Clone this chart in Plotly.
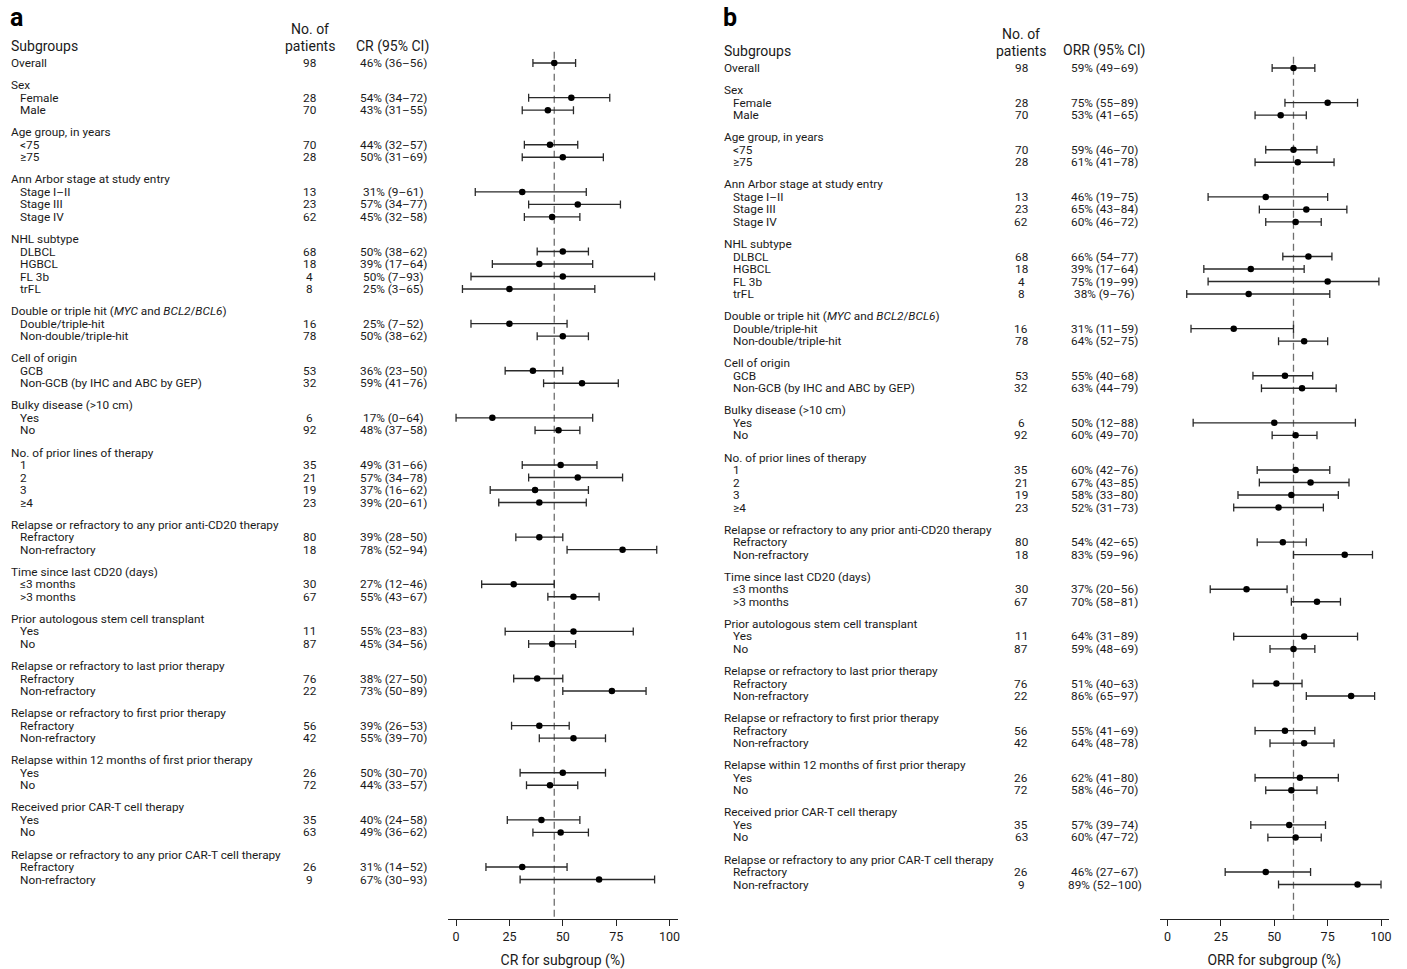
import plotly.graph_objects as go

# ---- subgroup structure -------------------------------------------------
overall_label = "Overall"
group_headers = [
    "Sex",
    "Age group, in years",
    "Ann Arbor stage at study entry",
    "NHL subtype",
    "Double or triple hit (<i>MYC</i> and <i>BCL2</i>/<i>BCL6</i>)",
    "Cell of origin",
    "Bulky disease (>10 cm)",
    "No. of prior lines of therapy",
    "Relapse or refractory to any prior anti-CD20 therapy",
    "Time since last CD20 (days)",
    "Prior autologous stem cell transplant",
    "Relapse or refractory to last prior therapy",
    "Relapse or refractory to first prior therapy",
    "Relapse within 12 months of first prior therapy",
    "Received prior CAR-T cell therapy",
    "Relapse or refractory to any prior CAR-T cell therapy",
]
group_items = [
    ["Female", "Male"],
    ["<75", "≥75"],
    ["Stage I–II", "Stage III", "Stage IV"],
    ["DLBCL", "HGBCL", "FL 3b", "trFL"],
    ["Double/triple-hit", "Non-double/triple-hit"],
    ["GCB", "Non-GCB (by IHC and ABC by GEP)"],
    ["Yes", "No"],
    ["1", "2", "3", "≥4"],
    ["Refractory", "Non-refractory"],
    ["≤3 months", ">3 months"],
    ["Yes", "No"],
    ["Refractory", "Non-refractory"],
    ["Refractory", "Non-refractory"],
    ["Yes", "No"],
    ["Yes", "No"],
    ["Refractory", "Non-refractory"],
]

# ---- panel a: complete response -----------------------------------------
cr_n = [98, 28, 70, 70, 28, 13, 23, 62, 68, 18, 4, 8, 16, 78, 53, 32, 6, 92,
        35, 21, 19, 23, 80, 18, 30, 67, 11, 87, 76, 22, 56, 42, 26, 72, 35, 63,
        26, 9]
cr_est = [46, 54, 43, 44, 50, 31, 57, 45, 50, 39, 50, 25, 25, 50, 36, 59, 17, 48,
          49, 57, 37, 39, 39, 78, 27, 55, 55, 45, 38, 73, 39, 55, 50, 44, 40, 49,
          31, 67]
cr_lo = [36, 34, 31, 32, 31, 9, 34, 32, 38, 17, 7, 3, 7, 38, 23, 41, 0, 37,
         31, 34, 16, 20, 28, 52, 12, 43, 23, 34, 27, 50, 26, 39, 30, 33, 24, 36,
         14, 30]
cr_hi = [56, 72, 55, 57, 69, 61, 77, 58, 62, 64, 93, 65, 52, 62, 50, 76, 64, 58,
         66, 78, 62, 61, 50, 94, 46, 67, 83, 56, 50, 89, 53, 70, 70, 57, 58, 62,
         52, 93]

# ---- panel b: overall response ------------------------------------------
orr_n = [98, 28, 70, 70, 28, 13, 23, 62, 68, 18, 4, 8, 16, 78, 53, 32, 6, 92,
         35, 21, 19, 23, 80, 18, 30, 67, 11, 87, 76, 22, 56, 42, 26, 72, 35, 63,
         26, 9]
orr_est = [59, 75, 53, 59, 61, 46, 65, 60, 66, 39, 75, 38, 31, 64, 55, 63, 50, 60,
           60, 67, 58, 52, 54, 83, 37, 70, 64, 59, 51, 86, 55, 64, 62, 58, 57, 60,
           46, 89]
orr_lo = [49, 55, 41, 46, 41, 19, 43, 46, 54, 17, 19, 9, 11, 52, 40, 44, 12, 49,
          42, 43, 33, 31, 42, 59, 20, 58, 31, 48, 40, 65, 41, 48, 41, 46, 39, 47,
          27, 52]
orr_hi = [69, 89, 65, 70, 78, 75, 84, 72, 77, 64, 99, 76, 59, 75, 68, 79, 88, 70,
          76, 85, 80, 73, 65, 96, 56, 81, 89, 69, 63, 97, 69, 78, 80, 70, 74, 72,
          67, 100]

tick_vals = [0, 25, 50, 75, 100]

# ---- geometry --------------------------------------------------------------
W, H = 1407, 969
ROW = 12.5          # pixels per row unit
HEADER_GAP = 1.77   # row units between a group's last item and the next header
AXIS_PX = 919       # pixel row of the x axis line
FONT = "Roboto"
TXT = "#1a1a1a"
BODY = 11.8

# row positions (row units, increasing downward)
item_rows = [0.0]
header_rows = []
labels = [overall_label]
pos = 0.0
for head, items in zip(group_headers, group_items):
    pos += HEADER_GAP
    header_rows.append(pos)
    for it in items:
        pos += 1
        item_rows.append(pos)
        labels.append(it)


def px_x(p):
    return p / W


def px_y(p):
    return 1 - p / H


panels = [
    dict(name="a", top=63, n=cr_n, est=cr_est, lo=cr_lo, hi=cr_hi,
         ref=cr_est[0], x_lab=9, x_n=310.5, x_ci=394, ci_head="CR (95% CI)",
         ax=(449, 679), xtitle="CR for subgroup (%)", xa="x", ya="y"),
    dict(name="b", top=68, n=orr_n, est=orr_est, lo=orr_lo, hi=orr_hi,
         ref=orr_est[0], x_lab=723.5, x_n=1023.5, x_ci=1107, ci_head="ORR (95% CI)",
         ax=(1162, 1392), xtitle="ORR for subgroup (%)", xa="x2", ya="y2"),
]

fig = go.Figure()
annotations = []
layout_axes = {}
bottom_dom = (H - AXIS_PX) / H

for i, p in enumerate(panels):
    r_top = -p["top"] / ROW
    r_bot = r_top + AXIS_PX / ROW
    xkey = "xaxis" if i == 0 else "xaxis2"
    ykey = "yaxis" if i == 0 else "yaxis2"
    yref = "y" if i == 0 else "y2"

    layout_axes[xkey] = dict(
        domain=[px_x(p["ax"][0]), px_x(p["ax"][1])],
        anchor=p["ya"], range=[-3.75, 103.75],
        showline=True, linecolor="#222222", linewidth=1.3,
        ticks="outside", ticklen=6, tickwidth=1.3, tickcolor="#222222",
        tickvals=tick_vals, showgrid=False, zeroline=False,
        tickfont=dict(family=FONT, size=12.5, color=TXT),
        title=dict(text=p["xtitle"], standoff=12,
                   font=dict(family=FONT, size=14, color=TXT)),
        fixedrange=True,
    )
    layout_axes[ykey] = dict(
        domain=[bottom_dom, 1], anchor=p["xa"], range=[r_bot, r_top],
        visible=False, showgrid=False, zeroline=False, fixedrange=True,
    )

    # reference line at the overall estimate
    fig.add_trace(go.Scatter(
        x=[p["ref"], p["ref"]], y=[-0.9, r_bot], mode="lines",
        line=dict(color="#6e6e6e", width=1.3, dash="7px,4px"),
        xaxis=p["xa"], yaxis=p["ya"], hoverinfo="skip", showlegend=False,
    ))

    # point estimates with 95% CI
    fig.add_trace(go.Scatter(
        x=p["est"], y=item_rows, mode="markers",
        marker=dict(color="#000000", size=6.5),
        error_x=dict(type="data", symmetric=False,
                     array=[h - e for h, e in zip(p["hi"], p["est"])],
                     arrayminus=[e - l for e, l in zip(p["est"], p["lo"])],
                     color="#2a2a2a", thickness=1.3, width=4),
        xaxis=p["xa"], yaxis=p["ya"], showlegend=False,
        text=labels, hovertemplate="%{text}: %{x}%<extra></extra>",
    ))

    # row texts
    for k, (lab, r) in enumerate(zip(labels, item_rows)):
        indent = 0 if k == 0 else 9
        annotations.append(dict(
            x=px_x(p["x_lab"] + indent), y=r, xref="paper", yref=yref,
            text=lab, showarrow=False, xanchor="left", yanchor="middle",
            font=dict(family=FONT, size=BODY, color=TXT)))
        annotations.append(dict(
            x=px_x(p["x_n"]), y=r, xref="paper", yref=yref,
            text=str(p["n"][k]), showarrow=False, xanchor="center",
            yanchor="middle", font=dict(family=FONT, size=BODY, color=TXT)))
        annotations.append(dict(
            x=px_x(p["x_ci"]), y=r, xref="paper", yref=yref,
            text=f"{p['est'][k]}% ({p['lo'][k]}–{p['hi'][k]})",
            showarrow=False, xanchor="center", yanchor="middle",
            font=dict(family=FONT, size=BODY, color=TXT)))
    for head, r in zip(group_headers, header_rows):
        annotations.append(dict(
            x=px_x(p["x_lab"]), y=r, xref="paper", yref=yref,
            text=head, showarrow=False, xanchor="left", yanchor="middle",
            font=dict(family=FONT, size=BODY, color=TXT)))

    # column headings
    off = p["top"] - 63
    heads = [
        ("Subgroups", p["x_lab"], 46 + off, "left"),
        ("No. of", p["x_n"], 29 + off, "center"),
        ("patients", p["x_n"], 46 + off, "center"),
        (p["ci_head"], p["x_ci"] - 1, 46 + off, "center"),
    ]
    for txt, xx, yy, anc in heads:
        annotations.append(dict(
            x=px_x(xx), y=px_y(yy), xref="paper", yref="paper", text=txt,
            showarrow=False, xanchor=anc, yanchor="middle",
            font=dict(family=FONT, size=14, color=TXT)))

    # panel letter
    annotations.append(dict(
        x=px_x(p["x_lab"] - 1), y=px_y(17), xref="paper", yref="paper",
        text=f"<b>{p['name']}</b>", showarrow=False, xanchor="left",
        yanchor="middle", font=dict(family=FONT, size=25, color="#000000")))

fig.update_layout(
    width=W, height=H,
    margin=dict(l=0, r=0, t=0, b=0),
    paper_bgcolor="white", plot_bgcolor="white",
    annotations=annotations,
    **layout_axes,
)

fig.write_html("out.html")
